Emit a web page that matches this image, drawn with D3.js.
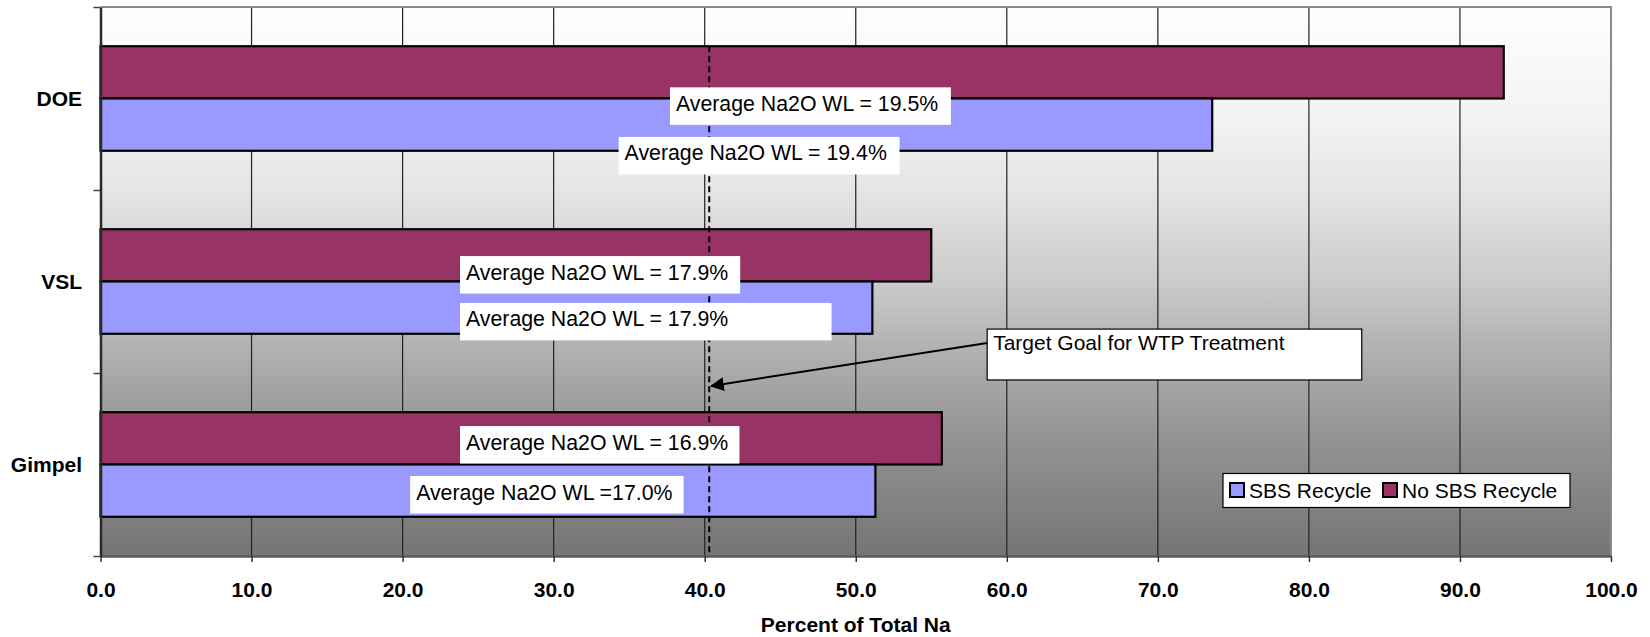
<!DOCTYPE html>
<html>
<head>
<meta charset="utf-8">
<script src="https://cdn.jsdelivr.net/npm/d3@7"></script>
<style>
  html, body { margin: 0; padding: 0; background: #ffffff; }
  svg { display: block; font-family: "Liberation Sans", Arial, sans-serif; }
</style>
</head>
<body>
<svg id="chart" width="1650" height="637"></svg>
<script>
// ---- data ----
const categories = ["DOE", "VSL", "Gimpel"];
const seriesNames = ["No SBS Recycle", "SBS Recycle"];
const noSbsRecycle = [92.9, 55.0, 55.7];
const sbsRecycle = [73.6, 51.1, 51.3];
const xTicks = [0, 10, 20, 30, 40, 50, 60, 70, 80, 90, 100];
const targetGoal = 40.3;
const targetText = "Target Goal for WTP Treatment";
const avgTexts = [
  "Average Na2O WL = 19.5%",
  "Average Na2O WL = 19.4%",
  "Average Na2O WL = 17.9%",
  "Average Na2O WL = 17.9%",
  "Average Na2O WL = 16.9%",
  "Average Na2O WL =17.0%"
];
const xTitle = "Percent of Total Na";

// ---- layout ----
const W = 1650, H = 637;
const plot = { left: 100.5, right: 1611, top: 7, bottom: 556 };
// annotation boxes: x extent in axis units, row = position in category rows (0 = top edge, 3 = bottom edge)
const avgBoxes = [
  { x0: 37.7, x1: 56.3, row: 0.439 },
  { x0: 34.3, x1: 52.9, row: 0.710 },
  { x0: 23.8, x1: 42.35, row: 1.361 },
  { x0: 23.8, x1: 48.4, row: 1.617 },
  { x0: 23.8, x1: 42.3, row: 2.290 },
  { x0: 20.5, x1: 38.6, row: 2.563 }
];
const boxRows = 0.205;
const targetBox = { x0: 58.7, x1: 83.5, row0: 1.760, row1: 2.038, arrowFrom: 1.836, arrowTo: 2.071 };

const svg = d3.select("#chart");
const defs = svg.append("defs");

const bg = defs.append("linearGradient").attr("id", "plotBg")
  .attr("x1", 0).attr("y1", 0).attr("x2", 0).attr("y2", 1);
[[0, "#fefefe"], [0.2, "#f3f3f3"], [0.333, "#e5e5e5"], [0.5, "#cbcbcb"],
 [0.61, "#b4b4b4"], [0.75, "#999999"], [0.9, "#838383"], [1, "#757575"]]
  .forEach(([o, c]) => bg.append("stop").attr("offset", o).attr("stop-color", c));

defs.append("marker").attr("id", "arrowHead")
  .attr("viewBox", "0 0 10 10").attr("refX", 9).attr("refY", 5)
  .attr("markerWidth", 7).attr("markerHeight", 7).attr("markerUnits", "strokeWidth")
  .attr("orient", "auto")
  .append("path").attr("d", "M0,0 L10,5 L0,10 Z").attr("fill", "#000");

// ---- scales ----
const x = d3.scaleLinear().domain([0, 100]).range([plot.left, plot.right]);
const y = d3.scaleBand().domain(categories).range([plot.top, plot.bottom]).paddingInner(0).paddingOuter(0);
const ySub = d3.scaleBand().domain(seriesNames).range([0, y.bandwidth()]).paddingInner(0).paddingOuter(0.75);
const row = d3.scaleLinear().domain([0, categories.length]).range([plot.top, plot.bottom]);
const color = d3.scaleOrdinal().domain(seriesNames).range(["#993366", "#9999ff"]);

// ---- plot background ----
svg.append("rect")
  .attr("x", plot.left).attr("y", plot.top)
  .attr("width", plot.right - plot.left).attr("height", plot.bottom - plot.top)
  .attr("fill", "url(#plotBg)");

// vertical gridlines
svg.append("g").selectAll("line")
  .data(xTicks.filter(t => t > 0 && t < 100))
  .join("line")
  .attr("x1", d => x(d)).attr("x2", d => x(d))
  .attr("y1", plot.top).attr("y2", plot.bottom)
  .attr("stroke", "#222").attr("stroke-width", 1.2);

// plot border (top and right)
svg.append("path")
  .attr("d", `M${plot.left},${plot.top}H${plot.right}V${plot.bottom}`)
  .attr("fill", "none").attr("stroke", "#8a8a8a").attr("stroke-width", 2);

// ---- bars ----
const rows = categories.map((c, i) => ({
  cat: c,
  values: [
    { series: seriesNames[0], value: noSbsRecycle[i] },
    { series: seriesNames[1], value: sbsRecycle[i] }
  ]
}));

svg.append("g").selectAll("g")
  .data(rows).join("g")
  .attr("transform", d => `translate(0,${y(d.cat)})`)
  .selectAll("rect")
  .data(d => d.values).join("rect")
  .attr("x", x(0))
  .attr("y", d => ySub(d.series))
  .attr("width", d => x(d.value) - x(0))
  .attr("height", ySub.bandwidth())
  .attr("fill", d => color(d.series))
  .attr("stroke", "#000").attr("stroke-width", 2.2);

// ---- axes ----
const xAxis = svg.append("g")
  .attr("transform", `translate(0,${plot.bottom})`)
  .call(d3.axisBottom(x).tickValues(xTicks).tickFormat(d3.format(".1f")).tickSize(6).tickSizeOuter(0));
xAxis.select(".domain").attr("stroke", "#5a5a5a").attr("stroke-width", 2.5);
xAxis.selectAll(".tick line").attr("stroke", "#333").attr("stroke-width", 1.5);
xAxis.selectAll(".tick text")
  .attr("y", 40.5).attr("dy", 0)
  .attr("fill", "#000")
  .style("font-size", "21px").style("font-weight", "bold")
  .style("font-family", "'Liberation Sans', Arial, sans-serif");

// left axis: line with ticks at category boundaries
const yEdges = d3.range(categories.length + 1);
const yAxis = svg.append("g")
  .attr("transform", `translate(${plot.left},0)`)
  .call(d3.axisLeft(row).tickValues(yEdges).tickFormat("").tickSize(7).tickSizeOuter(0));
yAxis.select(".domain").attr("stroke", "#2a2a2a").attr("stroke-width", 2.5);
yAxis.selectAll(".tick line").attr("stroke", "#444").attr("stroke-width", 1.5);

// category labels
svg.append("g").selectAll("text")
  .data(categories).join("text")
  .attr("x", 82)
  .attr("y", d => y(d) + y.bandwidth() / 2)
  .attr("dy", "0.35em")
  .attr("text-anchor", "end")
  .style("font-size", "21px").style("font-weight", "bold")
  .attr("fill", "#000")
  .text(d => d);

// axis title
svg.append("text")
  .attr("x", (plot.left + plot.right) / 2).attr("y", 632)
  .attr("text-anchor", "middle")
  .style("font-size", "21px").style("font-weight", "bold")
  .text(xTitle);

// ---- target line ----
svg.append("line")
  .attr("x1", x(targetGoal)).attr("x2", x(targetGoal))
  .attr("y1", y(categories[0]) + ySub(seriesNames[0])).attr("y2", plot.bottom)
  .attr("stroke", "#000").attr("stroke-width", 2)
  .attr("stroke-dasharray", "6,4");

// ---- average labels ----
const avgG = svg.append("g").selectAll("g")
  .data(avgTexts.map((t, i) => ({ text: t, box: avgBoxes[i] })))
  .join("g");
avgG.append("rect")
  .attr("x", d => x(d.box.x0)).attr("y", d => row(d.box.row))
  .attr("width", d => x(d.box.x1) - x(d.box.x0))
  .attr("height", row(boxRows) - row(0))
  .attr("fill", "#fff");
avgG.append("text")
  .attr("x", d => x(d.box.x0) + 6).attr("y", d => row(d.box.row) + 23.5)
  .style("font-size", "21.3px").attr("fill", "#000")
  .text(d => d.text);

// ---- target annotation ----
svg.append("line")
  .attr("x1", x(targetBox.x0)).attr("y1", row(targetBox.arrowFrom))
  .attr("x2", x(targetGoal) + 2).attr("y2", row(targetBox.arrowTo))
  .attr("stroke", "#000").attr("stroke-width", 2)
  .attr("marker-end", "url(#arrowHead)");
svg.append("rect")
  .attr("x", x(targetBox.x0)).attr("y", row(targetBox.row0))
  .attr("width", x(targetBox.x1) - x(targetBox.x0))
  .attr("height", row(targetBox.row1) - row(targetBox.row0))
  .attr("fill", "#fff").attr("stroke", "#000").attr("stroke-width", 1.2);
svg.append("text")
  .attr("x", x(targetBox.x0) + 6).attr("y", row(targetBox.row0) + 20.5)
  .style("font-size", "21px").attr("fill", "#000")
  .text(targetText);

// ---- legend ----
const legend = svg.append("g").attr("transform", "translate(1223,473.5)");
legend.append("rect").attr("width", 347).attr("height", 34)
  .attr("fill", "#fff").attr("stroke", "#000").attr("stroke-width", 1.2);
const legendItems = [
  { name: seriesNames[1], sx: 7, tx: 26 },
  { name: seriesNames[0], sx: 160, tx: 179 }
];
const li = legend.selectAll("g.item").data(legendItems).join("g").attr("class", "item");
li.append("rect")
  .attr("x", d => d.sx).attr("y", 9.5).attr("width", 14).attr("height", 14)
  .attr("fill", d => color(d.name)).attr("stroke", "#000").attr("stroke-width", 2);
li.append("text")
  .attr("x", d => d.tx).attr("y", 24)
  .style("font-size", "21px").attr("fill", "#000")
  .text(d => d.name);
</script>
</body>
</html>
